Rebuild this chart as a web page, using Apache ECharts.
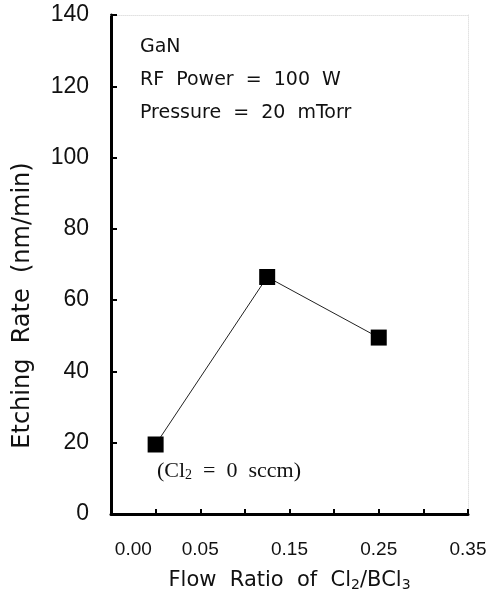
<!DOCTYPE html>
<html>
<head>
<meta charset="utf-8">
<script src="https://cdn.jsdelivr.net/npm/echarts@6/dist/echarts.min.js"></script>
<style>
  html, body { margin: 0; padding: 0; background: #fff; }
  #chart { width: 497px; height: 603px; }
</style>
</head>
<body>
<div id="chart"></div>
<script>
// 数据：Cl2/BCl3 流量比 与 刻蚀速率
const flowRatio = [0.0, 0.125, 0.25]
const etchRate = [19.5, 66.5, 49.5]
// x 轴标签（原图 0.00 标在 0 刻度左侧）
const xLabelValues = [-0.025, 0.05, 0.15, 0.25, 0.35]
const xLabelTexts = ['0.00', '0.05', '0.15', '0.25', '0.35']
const yTicks = [0, 20, 40, 60, 80, 100, 120, 140]
const notes = ['GaN', 'RF  Power  =  100  W', 'Pressure  =  20  mTorr']

const chart = echarts.init(document.getElementById('chart'))
const sans = '"Liberation Sans", Arial, sans-serif'
const wide = '"DejaVu Sans", sans-serif'
const serif = '"Liberation Serif", "Times New Roman", serif'

const option = {
  backgroundColor: '#fff',
  animation: false,
  grid: { left: 111, right: 29, top: 15, bottom: 89, containLabel: false },
  xAxis: [
    {
      // 主轴：刻度线
      type: 'value',
      min: -0.05,
      max: 0.35,
      interval: 0.05,
      name: 'Flow  Ratio  of  Cl{s|2}/BCl{s|3}',
      nameLocation: 'middle',
      nameGap: 56,
      nameTextStyle: {
        fontFamily: wide, fontSize: 21, color: '#111',
        rich: { s: { fontFamily: wide, fontSize: 14, color: '#111', padding: [8, 0, 0, 0] } }
      },
      axisLine: { onZero: false, lineStyle: { color: '#000', width: 3 } },
      axisTick: { inside: true, length: 5, lineStyle: { color: '#000', width: 2 } },
      axisLabel: { show: false },
      splitLine: { show: false }
    },
    {
      // 仅用于放置标签
      type: 'value',
      position: 'bottom',
      min: -0.05,
      max: 0.35,
      interval: 0.025,
      axisLine: { show: false, onZero: false },
      axisTick: { show: false },
      splitLine: { show: false },
      axisLabel: {
        margin: 26,
        fontFamily: sans,
        fontSize: 19,
        color: '#111',
        showMaxLabel: true,
        formatter: (v) => {
          const i = xLabelValues.findIndex(x => Math.abs(x - v) < 1e-6)
          return i >= 0 ? xLabelTexts[i] : ''
        }
      }
    },
    {
      // 顶部边框（扫描件中很淡）
      type: 'value',
      position: 'top',
      min: -0.05,
      max: 0.35,
      axisLine: { onZero: false, lineStyle: { color: '#e2e2e2', width: 1, type: 'dotted' } },
      axisTick: { show: false },
      axisLabel: { show: false },
      splitLine: { show: false }
    }
  ],
  yAxis: [
    {
      type: 'value',
      min: yTicks[0],
      max: yTicks[yTicks.length - 1],
      interval: 20,
      name: 'Etching  Rate  (nm/min)',
      nameLocation: 'middle',
      nameGap: 76,
      nameTextStyle: { fontFamily: wide, fontSize: 24, color: '#111', padding: [0, 82, 0, 0] },
      axisLine: { onZero: false, lineStyle: { color: '#000', width: 3 } },
      axisTick: { inside: true, length: 6, lineStyle: { color: '#000', width: 2 } },
      axisLabel: { margin: 22, fontFamily: sans, fontSize: 23, color: '#111' },
      splitLine: { show: false }
    },
    {
      type: 'value',
      position: 'right',
      min: 0,
      max: 140,
      axisLine: { onZero: false, lineStyle: { color: '#e2e2e2', width: 1, type: 'dotted' } },
      axisTick: { show: false },
      axisLabel: { show: false },
      splitLine: { show: false }
    }
  ],
  series: [
    {
      type: 'line',
      xAxisIndex: 0,
      yAxisIndex: 0,
      data: flowRatio.map((x, i) => [x, etchRate[i]]),
      symbol: 'rect',
      symbolSize: 16,
      lineStyle: { color: '#222', width: 1 },
      itemStyle: { color: '#000' }
    }
  ],
  graphic: [
    ...notes.map((t, i) => ({
      type: 'text',
      left: 140,
      top: 38 + i * 33,
      style: { text: t, fontFamily: wide, fontSize: 19, fill: '#111' }
    })),
    {
      type: 'text',
      left: 157,
      top: 460,
      style: {
        text: '(Cl{s|2}  =  0  sccm)',
        fontFamily: serif,
        fontSize: 22,
        fill: '#111',
        rich: { s: { fontFamily: serif, fontSize: 14, fill: '#111', padding: [8, 0, 0, 0] } }
      }
    }
  ]
}
chart.setOption(option)
</script>
</body>
</html>
